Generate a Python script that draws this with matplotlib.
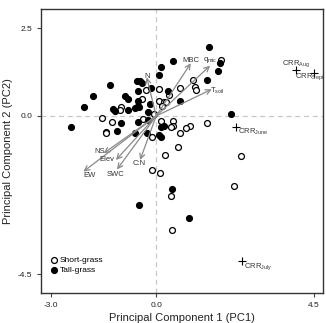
import numpy as np
import matplotlib
matplotlib.use("Agg")
import matplotlib.pyplot as plt

plt.rcParams['font.family'] = ['Liberation Sans', 'DejaVu Sans']
plt.rcParams['mathtext.fontset'] = 'custom'
plt.rcParams['mathtext.rm'] = 'Liberation Sans'
plt.rcParams['mathtext.it'] = 'Liberation Sans:italic'

# site scores
tall_pc1 = [1.51, 0.48, 0.14, 1.81, 1.78, 1.45, 0.08, -0.56, -0.46, -1.31, -1.80, -2.06,
            -2.43, -0.88, -0.81, -0.53, -0.16, 0.35, 0.68, -0.51, -0.53, -0.19, -1.24,
            -1.17, -0.81, -0.60, -0.49, -0.22, 2.14, -1.00, -0.52, -0.24, -1.12, -0.60,
            -0.27, 0.14, 0.21, 0.09, 0.13, 0.46, -0.49, 0.93, -0.40]
tall_pc2 = [1.95, 1.57, 1.38, 1.50, 1.29, 1.02, 1.17, 1.00, 0.99, 0.87, 0.58, 0.25,
            -0.32, 0.58, 0.49, 0.72, 0.80, 0.72, 0.43, 0.43, 0.28, 0.34, 0.19,
            0.15, 0.17, 0.22, 0.25, 0.12, 0.07, -0.21, -0.18, -0.11, -0.42, -0.49,
            -0.47, -0.30, -0.28, -0.54, -0.61, -2.07, -2.54, -2.90, 0.95]
short_pc1 = [1.85, 1.05, 1.11, 1.14, 0.69, 0.09, -0.29, -0.40, 0.09, 0.21, 0.27, 0.17,
             -1.01, -1.03, -1.56, -1.26, -1.43, -1.43, -0.39, 0.13, 0.47, 0.47, 0.43,
             0.97, 0.85, 0.69, 1.45, -0.12, 0.63, 0.26, 2.42, -0.11, 0.11, 0.41, 0.45,
             2.21, -0.05, 0.38]
short_pc2 = [1.59, 1.02, 0.82, 0.74, 0.79, 0.78, 0.74, 0.48, 0.43, 0.40, 0.40, 0.28,
             0.26, 0.17, -0.07, -0.17, -0.45, -0.49, -0.09, -0.13, -0.13, -0.28, -0.32,
             -0.28, -0.35, -0.47, -0.21, -0.59, -0.87, -1.11, -1.14, -1.54, -1.61, -2.28, -3.23,
             -1.99, 0.05, 0.60]

# variable loadings
var_names = ['MBC', r'q$_{\mathrm{mic}}$', r'T$_{\mathrm{soil}}$', 'N', 'NS', 'Elev', 'EW', 'SWC', 'C:N']
var_x = [0.99, 1.54, 1.59, -0.27, -1.50, -1.15, -2.08, -1.12, -0.46]
var_y = [1.50, 1.43, 0.76, 1.10, -1.06, -1.25, -1.58, -1.52, -1.25]
lab_x = [0.98, 1.55, 1.75, -0.26, -1.62, -1.40, -1.90, -1.17, -0.48]
lab_y = [1.58, 1.58, 0.70, 1.13, -1.02, -1.25, -1.68, -1.65, -1.34]

# CRR scores
crr_names = [r'CRR$_{\mathrm{Aug}}$', r'CRR$_{\mathrm{Sept}}$', r'CRR$_{\mathrm{June}}$', r'CRR$_{\mathrm{July}}$']
crr_x = [4.01, 4.52, 2.28, 2.45]
crr_y = [1.31, 1.23, -0.30, -4.12]

fig = plt.figure(figsize=(3.26, 3.23), dpi=100)
ax = fig.add_axes([0.126, 0.093, 0.865, 0.879])

ax.axhline(0, color='#c8c8c8', lw=0.9, ls=(0, (4, 3)), zorder=0)
ax.axvline(0, color='#c8c8c8', lw=0.9, ls=(0, (4, 3)), zorder=0)

ax.scatter(short_pc1, short_pc2, s=18, facecolors='white', edgecolors='black', linewidths=0.9,
           label='Short-grass', zorder=2)
ax.scatter(tall_pc1, tall_pc2, s=18, facecolors='black', edgecolors='black', linewidths=0.9,
           label='Tall-grass', zorder=2)

for name, x, y, lx, ly in zip(var_names, var_x, var_y, lab_x, lab_y):
    ax.annotate('', xy=(x, y), xytext=(0, 0),
                arrowprops=dict(arrowstyle='->', color='#8a8a8a', lw=0.9,
                                mutation_scale=9, shrinkA=0, shrinkB=0), zorder=3)
    ax.text(lx, ly, name, fontsize=5.5, color='#333333', ha='center', va='center', zorder=4)

ax.scatter(crr_x, crr_y, marker='+', s=40, color='black', linewidths=0.8, zorder=3)
ax.text(3.98, 1.48, crr_names[0], fontsize=5.5, color='#333333', ha='center', va='center')
ax.text(4.38, 1.13, crr_names[1], fontsize=5.5, color='#333333', ha='center', va='center')
ax.text(2.33, -0.44, crr_names[2], fontsize=5.5, color='#333333', ha='left', va='center')
ax.text(2.50, -4.27, crr_names[3], fontsize=5.5, color='#333333', ha='left', va='center')

ax.set_xlim(-3.29, 4.77)
ax.set_ylim(-5.03, 3.04)
ax.set_xticks([-3.0, 0.0, 4.5])
ax.set_xticklabels(['-3.0', '0.0', '4.5'])
ax.set_yticks([2.5, 0.0, -4.5])
ax.set_yticklabels(['2.5', '0.0', '-4.5'])
ax.tick_params(labelsize=6, length=3, width=0.8, color='#444444', labelcolor='#222222')
for sp in ax.spines.values():
    sp.set_linewidth(1.0)
    sp.set_color('#333333')

ax.set_xlabel('Principal Component 1 (PC1)', fontsize=8, color='#222222', labelpad=3)
ax.set_ylabel('Principal Component 2 (PC2)', fontsize=8, color='#222222', labelpad=3)

ax.legend(loc='lower left', bbox_to_anchor=(0.0, 0.04), frameon=False, fontsize=6,
          handletextpad=0.1, labelspacing=0.3, borderaxespad=0.5, markerscale=1.0,
          handlelength=1.2)

fig.savefig('out.png', dpi=100)
